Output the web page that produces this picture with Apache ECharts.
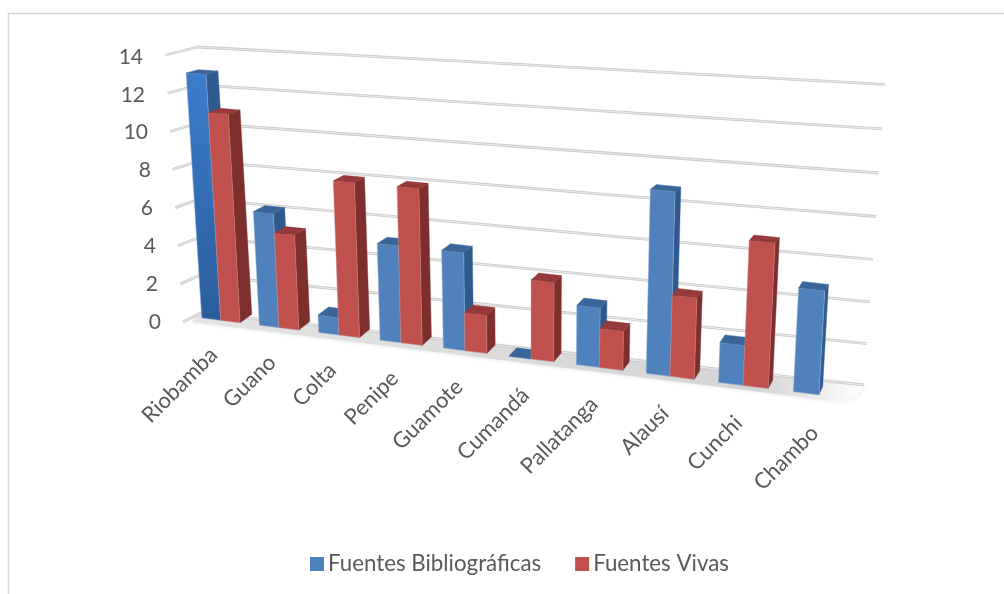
<!DOCTYPE html>
<html><head><meta charset="utf-8">
<style>html,body{margin:0;padding:0;background:#fff}#c{width:1004px;height:594px}</style>
<script src="https://cdn.jsdelivr.net/npm/echarts@6/dist/echarts.min.js"></script>
</head><body><div id="c"></div>
<script>
const categories = ['Riobamba','Guano','Colta','Penipe','Guamote','Cumandá','Pallatanga','Alausí','Cunchi','Chambo'];
const bibliograficas = [13,6,1,5,5,0,3,9,2,5];
const vivas = [11,5,8,8,2,4,2,4,7,'-'];
const levels = [0,2,4,6,8,10,12,14];
const labelPad = {0:1,2:4,4:6,6:9,8:11,10:14,12:17,14:19};

const FONT = 'Lato';
const GRID = {left:170,right:30,top:57,bottom:272};
const UNIT = (594-GRID.top-GRID.bottom)/14;
const BAR = 0.335;

// Projection of the flat grid into the picture's perspective.
function sOf(api,X){const a=api.coord([0,0])[0];const w=api.size([1,0])[0];return (X-a)/w;}
function frontX(s){return (53.65*s+201.7)/(1-0.01523*s);}
function lift(s,v){return v*(19+0.24*s)-2*Math.min(v,1);}
function front(s,v){
  const xb=frontX(s),yb=318+0.1246*(xb-201.7),H=lift(s,v);
  return [xb+(xb-530)*0.000194*H,yb-H];
}
function back(s,v){
  const p=front(s,v),H=lift(s,v);
  const xb=frontX(s);
  return [p[0]+11.7-(xb-240)*0.0138,p[1]-8.5+0.021*H];
}
function wallY(u,v){
  const l=313-19*v,r=385-20.5*v-0.07*v*v;return l+(r-l)*u;
}
function wall(u,v){
  const lx=201-v*3/14,rx=864+v*1.5;return [lx+(rx-lx)*u,wallY(u,v)];
}
function side(v){return [183-v*18/14,322-v*267/14];}

function poly(points,fill,extra){
  return {type:'polygon',shape:{points},style:Object.assign({fill,stroke:fill,lineWidth:0.4},extra||{})};
}
function barItem(offset,colors){
  return function(params,api){
    const v=api.value(1);
    if(v==null||isNaN(v)) return null;
    const i=api.value(0);
    const flat=api.coord([i,v]),base=api.coord([i,0]);
    const val=(base[1]-flat[1])/UNIT;
    const s0=sOf(api,flat[0])+offset, s1=s0+BAR;
    const a=front(s0,0),b=front(s1,0),c=front(s1,val),d=front(s0,val);
    const bb=back(s1,0),bc=back(s1,val),bd=back(s0,val);
    const kids=[];
    if(val>0){
      let fill=colors.front;
      if(colors.highlight&&i===0) fill=new echarts.graphic.LinearGradient(0,0,0,1,[{offset:0,color:'#3B7CCC'},{offset:1,color:'#2C5E9C'}]);
      kids.push(poly([b,bb,bc,c],colors.side));
      kids.push(poly([a,b,c,d],fill,{stroke:colors.edge,lineWidth:0.5}));
    }
    kids.push(poly([d,c,bc,bd],colors.top));
    return {type:'group',children:kids};
  };
}
function grayLine(points){
  return [
    {type:'polyline',shape:{points},style:{stroke:'#cccccc',lineWidth:2.8,fill:null}},
    {type:'polyline',shape:{points},style:{stroke:'#f1f1f1',lineWidth:0.8,fill:null}}
  ];
}

const chart=echarts.init(document.getElementById('c'),null,{renderer:'canvas'});
chart.setOption({
  backgroundColor:'#fff',
  animation:false,
  textStyle:{fontFamily:FONT},
  graphic:[{type:'polyline',silent:true,z:0,shape:{points:[[8.5,594],[8.5,13.5],[1004,13.5]]},style:{stroke:'#d6d6d6',lineWidth:1.6,fill:null}}],
  legend:{
    left:305,top:548,itemWidth:14,itemHeight:14,itemGap:34,icon:'rect',
    data:['Fuentes Bibliográficas','Fuentes Vivas'],
    textStyle:{color:'#595959',fontSize:22.3,fontFamily:FONT,padding:[0,0,0,-1]}
  },
  grid:{left:GRID.left,right:GRID.right,top:GRID.top,bottom:GRID.bottom,containLabel:false},
  xAxis:{type:'category',data:categories,axisLine:{show:false},axisTick:{show:false},axisLabel:{show:false},splitLine:{show:false}},
  yAxis:{type:'value',min:0,max:14,interval:2,splitLine:{show:false},axisLine:{show:false},axisTick:{show:false},
    axisLabel:{margin:8,fontSize:21,color:'#595959',fontFamily:FONT,
      formatter:v=>`{p${v}|${v}}`,
      rich:Object.fromEntries(levels.map(v=>[`p${v}`,{padding:[0,labelPad[v],0,0],fontSize:21,color:'#595959',fontFamily:FONT}]))
    }},
  series:[
    {type:'custom',name:'floor',silent:true,z:1,coordinateSystem:'cartesian2d',legendHoverLink:false,
      data:[[0,0]],
      renderItem(){
        return poly([[200,313],[864,385],[858,396],[842,402],[192,322]],
          new echarts.graphic.LinearGradient(0,0,1,0,[{offset:0,color:'#e4e4e4'},{offset:0.84,color:'#d4d4d4'},{offset:1,color:'#ffffff'}]),
          {stroke:null,shadowBlur:4,shadowColor:'#e4e4e4'});
      }},
    {type:'custom',name:'grid',silent:true,z:2,coordinateSystem:'cartesian2d',
      data:levels.map(v=>[0,v]),
      renderItem(p,api){
        const v=api.value(1);
        const val=(api.coord([0,0])[1]-api.coord([0,v])[1])/UNIT;
        const pts=[];
        for(let k=0;k<=10;k++) pts.push(wall(k/10,val));
        return {type:'group',children:[...grayLine(pts),...grayLine([side(val),wall(0,val)])]};
      }},
    {type:'custom',name:'Fuentes Bibliográficas',z:3,coordinateSystem:'cartesian2d',
      itemStyle:{color:'#4F81BD'},
      data:bibliograficas.map((v,i)=>[i,v]),
      renderItem:barItem(0,{front:'#4F81BD',side:'#2F5A8F',top:'#3A659B',edge:'#9fb6d3',highlight:true})},
    {type:'custom',name:'Fuentes Vivas',z:4,coordinateSystem:'cartesian2d',
      itemStyle:{color:'#C0504D'},
      data:vivas.map((v,i)=>[i,v]),
      renderItem:barItem(BAR,{front:'#C0504D',side:'#7E2F2D',top:'#96393A',edge:'#c98684'})},
    {type:'custom',name:'labels',silent:true,z:5,coordinateSystem:'cartesian2d',
      data:categories.map((c,i)=>[i,0]),
      renderItem(p,api){
        const i=api.value(0);
        const s=sOf(api,api.coord([i,0])[0])+BAR;
        const xb=frontX(s),yb=318+0.1246*(xb-201.7);
        return {type:'text',x:xb-7+(xb-240)*0.005,y:yb+31+(xb-240)*0.006,rotation:Math.PI/4,
          style:{text:categories[i],align:'right',verticalAlign:'middle',fontSize:22,fontFamily:FONT,fill:'#595959'}};
      }}
  ]
});
</script></body></html>
